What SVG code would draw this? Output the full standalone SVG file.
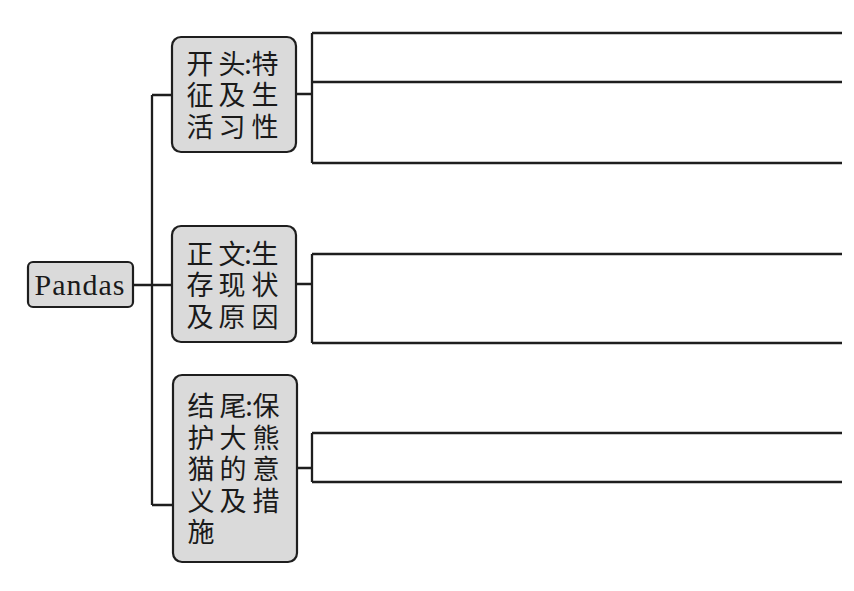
<svg xmlns="http://www.w3.org/2000/svg" width="854" height="591" viewBox="0 0 854 591">
<style>
.box{fill:#dadada;stroke:#1e1e1e;stroke-width:2.2}
.ln{fill:none;stroke:#1e1e1e;stroke-width:2.3}
.cj{font-family:"Noto Sans CJK SC","Noto Sans CJK JP",sans-serif;font-size:27px;fill:#1a1a1a;text-anchor:middle}
.en{font-family:"Liberation Serif",serif;font-size:30px;fill:#1a1a1a;text-anchor:middle;letter-spacing:1px}
</style>
<rect width="854" height="591" fill="#ffffff"/>
<g id="connectors">
<path class="ln" d="M133 285H172M152 95V505M152 95H172M152 505H173"/>
<path class="ln" d="M296 94H312M312 33V163M312 33H842M312 82H842M312 163H842"/>
<path class="ln" d="M296 284H312M312 254V343M312 254H842M312 343H842"/>
<path class="ln" d="M297 468H312M312 433V482M312 433H842M312 482H842"/>
</g>
<g id="root">
<rect class="box" x="28" y="262" width="105" height="45" rx="5"/>
<text class="en" x="80" y="295">Pandas</text>
</g>
<g id="n1">
<rect class="box" x="172" y="37" width="124" height="115" rx="9"/>
<text class="cj"><tspan x="200 232 248 265" y="74">开头:特</tspan><tspan x="200 232 265" y="105">征及生</tspan><tspan x="200 232 265" y="137">活习性</tspan></text>
</g>
<g id="n2">
<rect class="box" x="172" y="226" width="124" height="116" rx="9"/>
<text class="cj"><tspan x="200 232 248 265" y="264">正文:生</tspan><tspan x="200 232 265" y="295">存现状</tspan><tspan x="200 232 265" y="327">及原因</tspan></text>
</g>
<g id="n3">
<rect class="box" x="173" y="375" width="124" height="187" rx="9"/>
<text class="cj"><tspan x="201 233 249 266" y="416">结尾:保</tspan><tspan x="201 233 266" y="448">护大熊</tspan><tspan x="201 233 266" y="479">猫的意</tspan><tspan x="201 233 266" y="511">义及措</tspan><tspan x="201" y="542">施</tspan></text>
</g>
</svg>
